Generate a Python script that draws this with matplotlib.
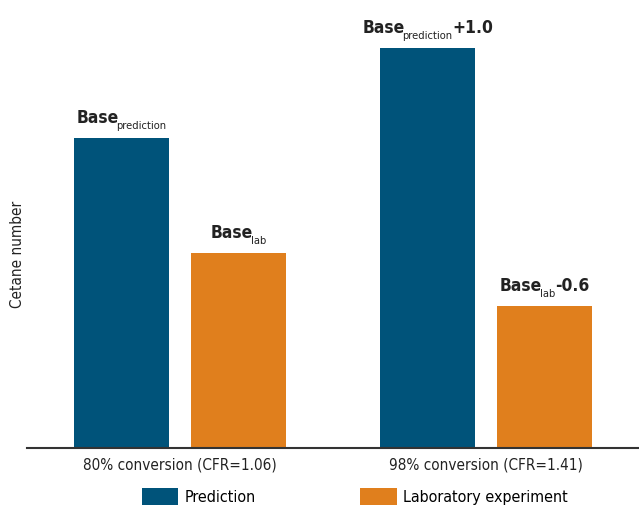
import matplotlib.pyplot as plt
import numpy as np

plt.rcParams['font.family'] = ['DejaVu Sans']
plt.rcParams['font.stretch'] = 'condensed'

# cetane number, arbitrary units (no scale on the axis)
grupos = ['80% conversion (CFR=1.06)', '98% conversion (CFR=1.41)']
prediccion = [310, 400]
laboratorio = [195, 142]
# label pieces: main text, subscript, suffix
etiquetas_pred = [('Base', 'prediction', ''), ('Base', 'prediction', '+1.0')]
etiquetas_lab = [('Base', 'lab', ''), ('Base', 'lab', '-0.6')]

azul = '#00537a'
naranja = '#e07f1d'
texto = '#222222'

fig = plt.figure(figsize=(6.39, 5.08), dpi=100)
ax = fig.add_axes([0.0423, 0.1181, 0.9577, 0.8661])

x = np.arange(len(grupos))
w = 0.31
off = 0.191
b1 = ax.bar(x - off, prediccion, w, color=azul, label='Prediction')
b2 = ax.bar(x + off, laboratorio, w, color=naranja, label='Laboratory experiment')

alto = 8     # gap above the bar, points
bajada = 3   # subscript drop, points


def etiqueta(xc, y, partes):
    base, sub, resto = partes
    t1 = ax.annotate(base, xy=(xc, y), xytext=(0, alto), textcoords='offset points',
                     ha='left', va='bottom', fontsize=12.5, fontweight='bold', color=texto)
    t2 = ax.annotate(sub, xy=(1, 0), xycoords=t1, xytext=(-1.5, -bajada),
                     textcoords='offset points', ha='left', va='bottom',
                     fontsize=8, color=texto)
    piezas = [t1, t2]
    if resto:
        t3 = ax.annotate(resto, xy=(1, 0), xycoords=t2, xytext=(-0.5, bajada),
                         textcoords='offset points', ha='left', va='bottom',
                         fontsize=12.5, fontweight='bold', color=texto)
        piezas.append(t3)
    return piezas


grupos_txt = []
for i in range(len(grupos)):
    grupos_txt.append(etiqueta(x[i] - off, prediccion[i], etiquetas_pred[i]))
    grupos_txt.append(etiqueta(x[i] + off, laboratorio[i], etiquetas_lab[i]))

ax.set_xlim(-0.5, 1.5)
ax.set_ylim(0, 440)
ax.set_xticks(x)
ax.set_xticklabels(grupos, fontsize=11)
ax.tick_params(axis='x', length=0, pad=7, colors=texto)
ax.set_yticks([])
for s in ['top', 'right', 'left']:
    ax.spines[s].set_visible(False)
ax.spines['bottom'].set_color('#333333')
ax.spines['bottom'].set_linewidth(1.5)

fig.text(0.028, 0.5, 'Cetane number', rotation=90, ha='center', va='center',
         fontsize=11, color=texto)

fig.legend(handles=[b1, b2], loc='lower center', bbox_to_anchor=(0.555, -0.022), ncol=2,
           frameon=False, fontsize=11.5, handlelength=2.3, handleheight=1.2,
           columnspacing=6.5, handletextpad=0.4)

# center each composite label over its bar
fig.canvas.draw()
r = fig.canvas.get_renderer()
for piezas in grupos_txt:
    izq = piezas[0].get_window_extent(r).x0
    der = piezas[-1].get_window_extent(r).x1
    ancho = (der - izq) * 72 / fig.dpi
    piezas[0].xyann = (-ancho / 2, alto)

plt.savefig('out.png', dpi=100)
